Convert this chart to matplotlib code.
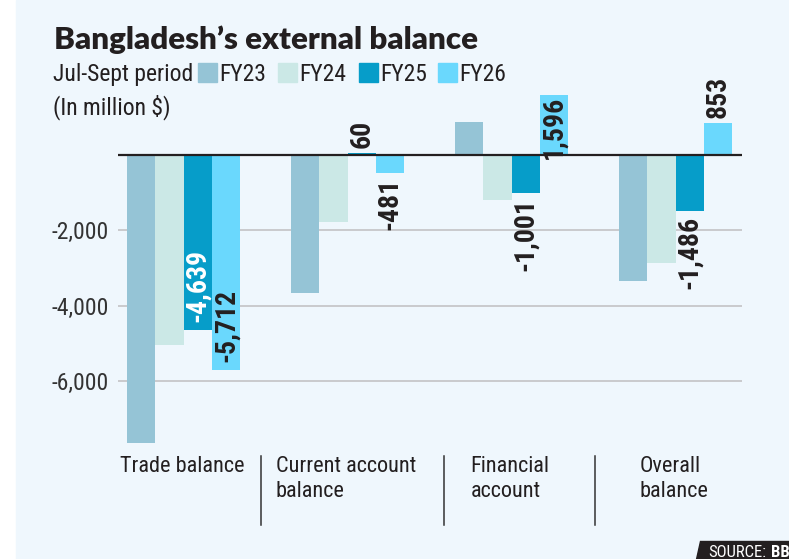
import matplotlib
matplotlib.use('Agg')
import matplotlib.pyplot as plt
import matplotlib.transforms as mtransforms
from matplotlib import font_manager
from matplotlib.patches import Rectangle, Polygon
from matplotlib.lines import Line2D

# data (million $, Jul-Sept period)
categories = ['Trade balance', 'Current account\nbalance', 'Financial\naccount', 'Overall\nbalance']
years = ['FY23', 'FY24', 'FY25', 'FY26']
fy23 = [-7650, -3670, 880, -3330]
fy24 = [-5030, -1790, -1190, -2860]
fy25 = [-4639, 60, -1001, -1486]
fy26 = [-5712, -481, 1596, 853]
colors = ['#95c4d6', '#cbe8e6', '#069dc9', '#6ad8fd']
yticks = [-2000, -4000, -6000]

series = [fy23, fy24, fy25, fy26]
labelled = [2, 3]  # only FY25 and FY26 carry value labels
# labels drawn inside the bar end: (series, category) -> text colour
inside = {(2, 0): 'white', (3, 0): '#231f20', (3, 2): '#231f20'}

names = {f.name for f in font_manager.fontManager.ttflist}
cond = next((n for n in ['Liberation Sans Narrow', 'Roboto Condensed', 'Liberation Sans'] if n in names), 'DejaVu Sans')
heavy = next((n for n in ['Lato', 'Roboto', 'DejaVu Sans'] if n in names), 'DejaVu Sans')

dark = '#231f20'
bg = '#eff7fd'
W, H = 789, 559

fig = plt.figure(figsize=(W / 100, H / 100), dpi=100, facecolor='white')
fig.add_artist(Rectangle((16 / W, 0), 1, 1, transform=fig.transFigure, color=bg, zorder=-10))

ax = fig.add_axes([118 / W, 1 - 450 / H, (742 - 118) / W, (450 - 92) / H])
ax.set_facecolor('none')
ax.set_xlim(-0.4, 3.405)
ax.set_ylim(-7825, 1671)

bw = 0.173
x = range(len(categories))
for i, vals in enumerate(series):
    xs = [c + (i - 1.5) * bw for c in x]
    ax.bar(xs, vals, width=bw, color=colors[i], zorder=2, linewidth=0)
    if i not in labelled:
        continue
    for j, (xx, v) in enumerate(zip(xs, vals)):
        txt = f'{v:,}'
        if (i, j) in inside:
            off = 8 if v < 0 else -1
            va = 'bottom' if v < 0 else 'top'
            col = inside[(i, j)]
        else:
            off = -5 if v < 0 else 5
            va = 'top' if v < 0 else 'bottom'
            col = dark
        ax.annotate(txt, (xx, v), xytext=(0, off), textcoords='offset pixels',
                    rotation=90, ha='center', va=va, color=col,
                    fontsize=20, fontweight='bold', family=cond, zorder=4)

ax.axhline(0, color=dark, lw=1.6, zorder=3)
for t in yticks:
    ax.axhline(t, color='#c9cacd', lw=1.4, zorder=1)

ax.set_yticks(yticks)
ax.set_yticklabels([f'{t:,}' for t in yticks], family=cond, fontsize=17, color='#333333')
ax.tick_params(axis='y', length=0, pad=6.5)
ax.set_xticks([])
for s in ax.spines.values():
    s.set_visible(False)

# category labels and separators under the plot
trans = mtransforms.blended_transform_factory(ax.transData, fig.transFigure)
for j, cat in enumerate(categories):
    ax.text(j - 0.01, 1 - 456 / H, cat, transform=trans, ha='center', va='top',
            multialignment='left', fontsize=16, family=cond, color=dark, linespacing=1.25)
for sx in [0.47, 1.59, 2.51]:
    fig.add_artist(Line2D([sx, sx], [1 - 456 / H, 1 - 525 / H], transform=trans, color='#333333', lw=1.1))

# title and subtitle
fig.text(54 / W, 1 - 49 / H, 'Bangladesh\u2019s external balance', fontsize=22.5, fontweight='heavy',
         family=heavy, color=dark, va='baseline')
fig.text(53 / W, 1 - 81 / H, 'Jul-Sept period', fontsize=17, family=cond, color=dark, va='baseline')
fig.text(53 / W, 1 - 114 / H, '(In million $)', fontsize=17, family=cond, color=dark, va='baseline')

# legend
for lx, yr, c in zip([198, 278, 359, 438], years, colors):
    fig.add_artist(Rectangle((lx / W, 1 - 82 / H), 19 / W, 19 / H, transform=fig.transFigure, color=c))
    fig.text((lx + 21) / W, 1 - 81 / H, yr, fontsize=17, family=cond, color=dark, va='baseline')

# source tag
fig.add_artist(Polygon([(700 / W, 1 - 541 / H), (1, 1 - 541 / H), (1, 0), (696 / W, 0)],
                       closed=True, transform=fig.transFigure, color='#231f20'))
fig.text(708 / W, 1 - 557 / H, 'SOURCE:', fontsize=12, family=cond, color='white', va='baseline')
fig.text(771 / W, 1 - 557 / H, 'BB', fontsize=12, family=cond, fontweight='bold', color='white', va='baseline')

plt.savefig('out.png', dpi=100, facecolor='white')
